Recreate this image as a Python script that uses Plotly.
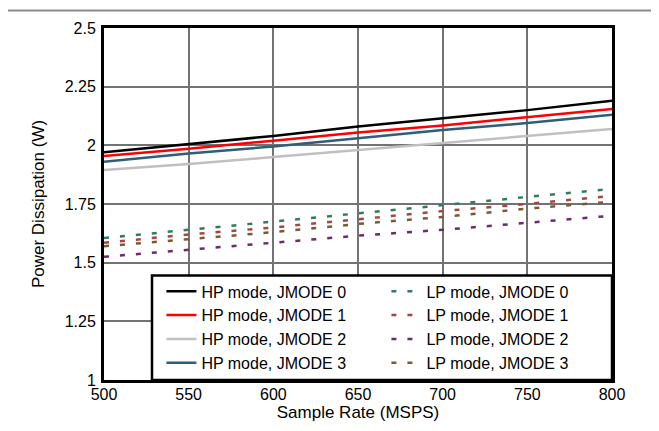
import plotly.graph_objects as go

# sample rate [MSPS]
rate = [500, 550, 600, 650, 700, 750, 800]

# power dissipation [W]
hp_j0 = [1.97, 2.005, 2.04, 2.08, 2.115, 2.15, 2.19]
hp_j1 = [1.955, 1.985, 2.02, 2.055, 2.085, 2.12, 2.155]
hp_j2 = [1.895, 1.92, 1.95, 1.98, 2.01, 2.04, 2.07]
hp_j3 = [1.93, 1.965, 1.995, 2.03, 2.065, 2.095, 2.13]
lp_j0 = [1.605, 1.64, 1.675, 1.71, 1.745, 1.78, 1.815]
lp_j1 = [1.585, 1.62, 1.65, 1.685, 1.72, 1.75, 1.785]
lp_j2 = [1.525, 1.555, 1.585, 1.615, 1.64, 1.67, 1.70]
lp_j3 = [1.57, 1.60, 1.63, 1.665, 1.695, 1.73, 1.76]

x_ticks = [500, 550, 600, 650, 700, 750, 800]
y_ticks = [1, 1.25, 1.5, 1.75, 2, 2.25, 2.5]
y_labels = ["1", "1.25", "1.5", "1.75", "2", "2.25", "2.5"]

# legend order: HP0, LP0, HP1, LP1, ... (two columns)
series = [
    ("HP mode, JMODE 0", hp_j0, "#000000", "solid"),
    ("LP mode, JMODE 0", lp_j0, "#2e7d5b", "5px,11px"),
    ("HP mode, JMODE 1", hp_j1, "#ff0000", "solid"),
    ("LP mode, JMODE 1", lp_j1, "#a94444", "5px,11px"),
    ("HP mode, JMODE 2", hp_j2, "#c0c0c0", "solid"),
    ("LP mode, JMODE 2", lp_j2, "#6e2a6e", "5px,11px"),
    ("HP mode, JMODE 3", hp_j3, "#2f5d7a", "solid"),
    ("LP mode, JMODE 3", lp_j3, "#7a5a30", "5px,11px"),
]

fig = go.Figure()
for name, vals, col, dash in series:
    fig.add_trace(go.Scatter(x=rate, y=vals, name=name, mode="lines",
                             line=dict(color=col, width=2.5, dash=dash)))

axis_common = dict(showgrid=True, gridcolor="#737373", gridwidth=1.5,
                   showline=True, linecolor="#000000", linewidth=3, mirror=True,
                   ticks="", zeroline=False,
                   tickfont=dict(size=16, color="#000000"))

fig.update_xaxes(range=[500, 800], tickvals=x_ticks, ticklabelstandoff=-2,
                 title=dict(text="Sample Rate (MSPS)", font=dict(size=17, color="#000000"), standoff=0),
                 **axis_common)
fig.update_yaxes(range=[1, 2.5], tickvals=y_ticks, ticktext=y_labels, ticklabelstandoff=2,
                 title=dict(text="Power Dissipation (W)", font=dict(size=17, color="#000000"), standoff=16),
                 **axis_common)

# legend frame (white box with heavy black border)
fig.add_shape(type="rect", xref="paper", yref="paper", x0=0.0945, x1=1.0, y0=0, y1=0.297,
              fillcolor="white", line=dict(color="#000000", width=2.5), layer="above")
# thin grey rule at the top of the picture
fig.add_shape(type="line", xref="paper", yref="paper", x0=-0.2, x1=1.11, y0=1.05, y1=1.05,
              line=dict(color="#8a8a8a", width=2))

fig.update_layout(
    width=659, height=431,
    margin=dict(l=96, r=55, t=12, b=59),
    paper_bgcolor="white", plot_bgcolor="white",
    font=dict(family="Liberation Sans, Arial, sans-serif", color="#000000"),
    legend=dict(orientation="h", x=0.113, xanchor="left", y=0.30, yanchor="top",
                entrywidth=180, entrywidthmode="pixels",
                bgcolor="rgba(0,0,0,0)", borderwidth=0,
                font=dict(size=16, color="#000000"), tracegroupgap=0,
                traceorder="normal"),
)

fig.write_html("out.html")
